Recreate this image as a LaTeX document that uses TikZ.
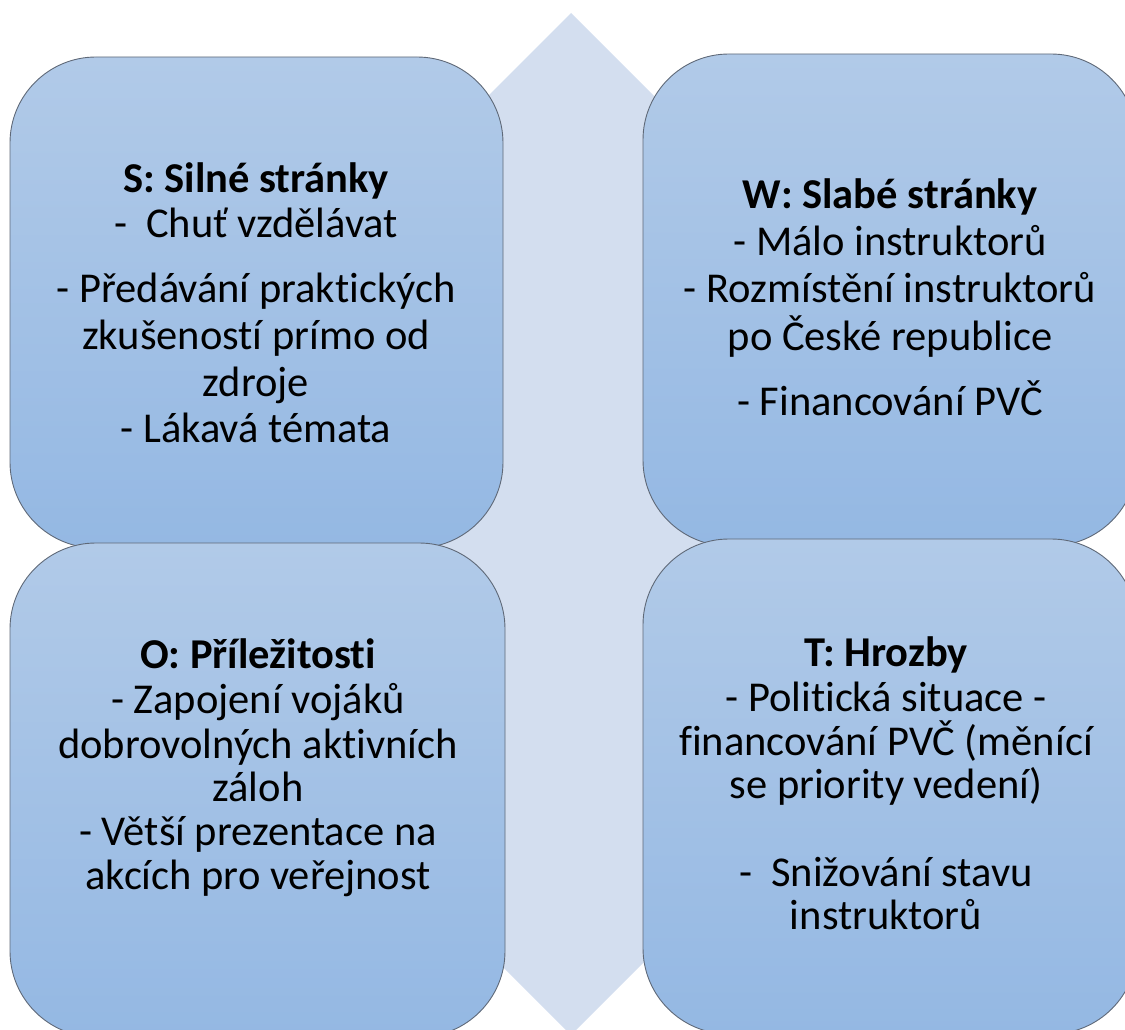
\documentclass[tikz,border=0pt]{standalone}
\usepackage{fontspec}
\setmainfont{Carlito}[RawFeature={-liga;-clig;-calt;-dlig}]
\begin{document}
\begin{tikzpicture}[x=1pt,y=-1pt,
  boxshape/.style={top color=boxtop,bottom color=boxbot,draw=boxline,line width=0.9pt,rounded corners=86pt},
  ln/.style={anchor=base,inner sep=0pt,font=\fontsize{42.5}{47}\selectfont},
  hd/.style={ln,font=\fontsize{42.5}{47}\selectfont\bfseries}]
\definecolor{boxtop}{RGB}{177,202,232}
\definecolor{boxbot}{RGB}{148,184,227}
\definecolor{boxline}{RGB}{95,105,120}
\definecolor{diam}{RGB}{211,222,239}
\useasboundingbox (0,0) rectangle (1125,1030);
\clip (0,0) rectangle (1125,1030);
% background diamond
\fill[diam] (571,13) -- (1082,524) -- (571,1035) -- (60,524) -- cycle;
% boxes
\shade[boxshape] (10,57) rectangle (503,548);
\shade[boxshape] (643,54) rectangle (1137,546);
\shade[boxshape] (10,543) rectangle (505,1037);
\shade[boxshape] (643,539) rectangle (1137,1034);
% S
\node[hd] (s0) at (256,193) {S: Silné stránky};
\node[ln] (s1) at (256,237) {-\ \ Chuť vzdělávat};
\node[ln] (s2) at (256,302) {- Předávání praktických};
\node[ln] (s3) at (256,349) {zkušeností prímo od};
\node[ln] (s4) at (256,396) {zdroje};
\node[ln] (s5) at (256,442) {- Lákavá témata};
% W
\node[hd] (w0) at (890,208) {W: Slabé stránky};
\node[ln] (w1) at (890,255) {- Málo instruktorů};
\node[ln] (w2) at (890,302) {- Rozmístění instruktorů};
\node[ln] (w3) at (890,350) {po České republice};
\node[ln] (w4) at (890,415) {- Financování PVČ};
% O
\node[hd] (o0) at (258,668) {O: Příležitosti};
\node[ln] (o1) at (258,713) {- Zapojení vojáků};
\node[ln] (o2) at (258,758) {dobrovolných aktivních};
\node[ln] (o3) at (258,801) {záloh};
\node[ln] (o4) at (258,845) {- Větší prezentace na};
\node[ln] (o5) at (258,889) {akcích pro veřejnost};
% T
\node[hd] (t0) at (886,666) {T: Hrozby};
\node[ln] (t1) at (886,711) {- Politická situace -};
\node[ln] (t2) at (886,755) {financování PVČ (měnící};
\node[ln] (t3) at (886,798) {se priority vedení)};
\node[ln] (t4) at (886,886) {-\ \ Snižování stavu};
\node[ln] (t5) at (886,929) {instruktorů};
\end{tikzpicture}
\end{document}
